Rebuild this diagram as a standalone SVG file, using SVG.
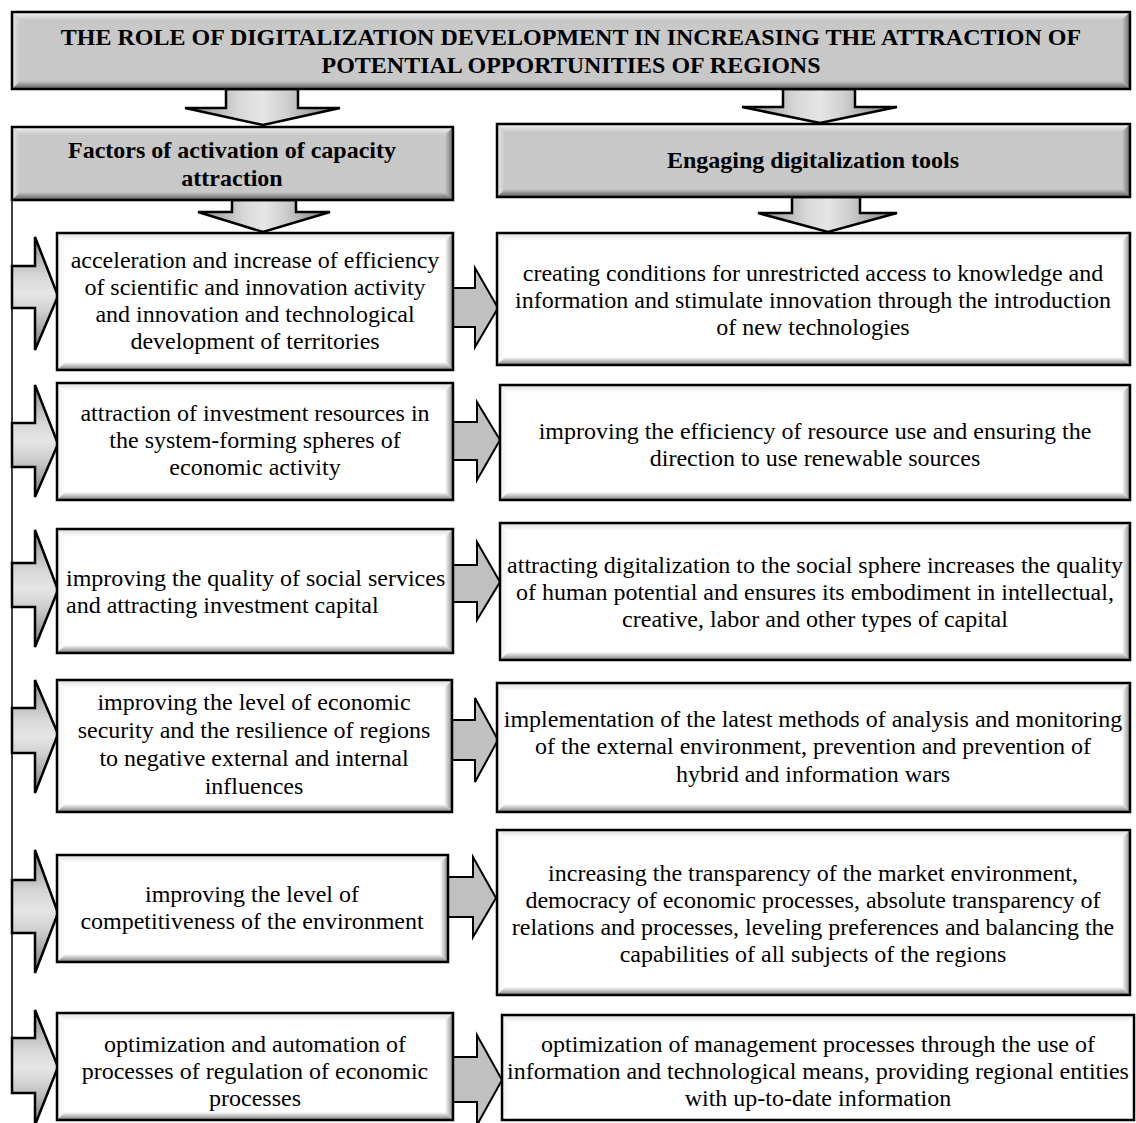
<svg xmlns="http://www.w3.org/2000/svg" width="1136" height="1123" viewBox="0 0 1136 1123">
<defs>
<linearGradient id="gwT" x1="0" y1="0" x2="0" y2="1"><stop offset="0" stop-color="#dcdcdc"/><stop offset="1" stop-color="#ffffff"/></linearGradient>
<linearGradient id="gwL" x1="0" y1="0" x2="1" y2="0"><stop offset="0" stop-color="#eeeeee"/><stop offset="1" stop-color="#ffffff"/></linearGradient>
<linearGradient id="gwR" x1="0" y1="0" x2="1" y2="0"><stop offset="0" stop-color="#ffffff"/><stop offset="1" stop-color="#8a8a8a"/></linearGradient>
<linearGradient id="gwB" x1="0" y1="0" x2="0" y2="1"><stop offset="0" stop-color="#ffffff"/><stop offset="1" stop-color="#7a7a7a"/></linearGradient>
<linearGradient id="ggT" x1="0" y1="0" x2="0" y2="1"><stop offset="0" stop-color="#f4f4f4"/><stop offset="1" stop-color="#c8c8c8"/></linearGradient>
<linearGradient id="ggL" x1="0" y1="0" x2="1" y2="0"><stop offset="0" stop-color="#e6e6e6"/><stop offset="1" stop-color="#c8c8c8"/></linearGradient>
<linearGradient id="ggR" x1="0" y1="0" x2="1" y2="0"><stop offset="0" stop-color="#c8c8c8"/><stop offset="1" stop-color="#6a6a6a"/></linearGradient>
<linearGradient id="ggB" x1="0" y1="0" x2="0" y2="1"><stop offset="0" stop-color="#c8c8c8"/><stop offset="1" stop-color="#5a5a5a"/></linearGradient>
<linearGradient id="gArrH" x1="0" y1="0" x2="0" y2="1"><stop offset="0" stop-color="#8c8c8c"/><stop offset="0.35" stop-color="#d8d8d8"/><stop offset="0.5" stop-color="#e6e6e6"/><stop offset="0.65" stop-color="#d0d0d0"/><stop offset="1" stop-color="#7c7c7c"/></linearGradient>
<linearGradient id="gArrV" x1="0" y1="0" x2="1" y2="0"><stop offset="0" stop-color="#8c8c8c"/><stop offset="0.35" stop-color="#d8d8d8"/><stop offset="0.5" stop-color="#e6e6e6"/><stop offset="0.65" stop-color="#d0d0d0"/><stop offset="1" stop-color="#7c7c7c"/></linearGradient>
</defs>
<style>
.t{font-family:"Liberation Serif","Times New Roman",serif;font-size:24px;fill:#000;text-anchor:middle}
.tl{text-anchor:start}
.h{font-family:"Liberation Serif","Times New Roman",serif;font-size:24px;font-weight:bold;fill:#000;text-anchor:middle}
.ob{fill:none;stroke:#000;stroke-width:2.5}
.wb{fill:#fff}
.gb{fill:#c8c8c8}
.ra{fill:#c0c0c0;stroke:#000;stroke-width:2;stroke-linejoin:miter}
.la{fill:url(#gArrH);stroke:#000;stroke-width:2.5}
.da{fill:url(#gArrV);stroke:#000;stroke-width:2.5}
.ln{stroke:#000;stroke-width:1.5;fill:none}
</style>

<g id="connectors">
<line class="ln" x1="12" y1="200" x2="12" y2="1040"/>
<polygon class="da" points="226,89 298,89 298,108 340,108 263,125 185,108 226,108"/>
<polygon class="da" points="783,89 855,89 855,107 897,107 820,123 742,107 783,107"/>
<polygon class="da" points="232,200 296,200 296,212 330,212 263,232 198,212 232,212"/>
<polygon class="da" points="792,197 860,197 860,213 897,213 828,232 758,213 792,213"/>
<polygon class="la" points="12,266 35,266 35,237 58,296 35,350 35,308 12,308"/>
<polygon class="la" points="12,423 35,423 35,385 58,444 35,497 35,467 12,467"/>
<polygon class="la" points="12,563 35,563 35,530 58,590 35,647 35,607 12,607"/>
<polygon class="la" points="12,708 35,708 35,680 58,734 35,793 35,753 12,753"/>
<polygon class="la" points="12,880 35,880 35,850 58,913 35,973 35,933 12,933"/>
<polygon class="la" points="12,1038 35,1038 35,1010 58,1067 35,1125 35,1093 12,1093"/>
<polygon class="ra" points="453,288 475,288 475,268 498,308 475,347 475,327 453,327"/>
<polygon class="ra" points="453,422 477,422 477,402 500,440 477,480 477,460 453,460"/>
<polygon class="ra" points="453,565 477,565 477,542 500,582 477,620 477,602 453,602"/>
<polygon class="ra" points="452,720 475,720 475,698 498,740 475,782 475,760 452,760"/>
<polygon class="ra" points="448,877 473,877 473,857 496,898 473,937 473,917 448,917"/>
<polygon class="ra" points="453,1057 477,1057 477,1035 502,1080 477,1125 477,1102 453,1102"/>
</g>

<g id="title">
<rect class="gb" x="12" y="12" width="1118" height="77"/>
<polygon fill="url(#ggT)" points="12,12 1130,12 1122,20 20,20"/>
<polygon fill="url(#ggL)" points="12,12 20,20 20,81 12,89"/>
<polygon fill="url(#ggR)" points="1122,20 1130,12 1130,89 1122,81"/>
<polygon fill="url(#ggB)" points="12,89 20,81 1122,81 1130,89"/>
<rect class="ob" x="12" y="12" width="1118" height="77"/>
<text class="h" x="571" y="45">THE ROLE OF DIGITALIZATION DEVELOPMENT IN INCREASING THE ATTRACTION OF</text>
<text class="h" x="571" y="73">POTENTIAL OPPORTUNITIES OF REGIONS</text>
</g>

<g id="factors">
<rect class="gb" x="12" y="127" width="441" height="73"/>
<polygon fill="url(#ggT)" points="12,127 453,127 445,135 20,135"/>
<polygon fill="url(#ggL)" points="12,127 20,135 20,192 12,200"/>
<polygon fill="url(#ggR)" points="445,135 453,127 453,200 445,192"/>
<polygon fill="url(#ggB)" points="12,200 20,192 445,192 453,200"/>
<rect class="ob" x="12" y="127" width="441" height="73"/>
<text class="h" x="232" y="158">Factors of activation of capacity</text>
<text class="h" x="232" y="186">attraction</text>
</g>

<g id="tools">
<rect class="gb" x="497" y="124" width="633" height="73"/>
<polygon fill="url(#ggT)" points="497,124 1130,124 1122,132 505,132"/>
<polygon fill="url(#ggL)" points="497,124 505,132 505,189 497,197"/>
<polygon fill="url(#ggR)" points="1122,132 1130,124 1130,197 1122,189"/>
<polygon fill="url(#ggB)" points="497,197 505,189 1122,189 1130,197"/>
<rect class="ob" x="497" y="124" width="633" height="73"/>
<text class="h" x="813" y="168">Engaging digitalization tools</text>
</g>

<g id="L1">
<rect class="wb" x="57" y="233" width="396" height="137"/>
<polygon fill="url(#gwT)" points="57,233 453,233 445,241 65,241"/>
<polygon fill="url(#gwL)" points="57,233 65,241 65,362 57,370"/>
<polygon fill="url(#gwR)" points="445,241 453,233 453,370 445,362"/>
<polygon fill="url(#gwB)" points="57,370 65,362 445,362 453,370"/>
<rect class="ob" x="57" y="233" width="396" height="137"/>
<text class="t" x="255" y="268">acceleration and increase of efficiency</text>
<text class="t" x="255" y="295">of scientific and innovation activity</text>
<text class="t" x="255" y="322">and innovation and technological</text>
<text class="t" x="255" y="349">development of territories</text>
</g>

<g id="R1">
<rect class="wb" x="497" y="233" width="633" height="132"/>
<polygon fill="url(#gwT)" points="497,233 1130,233 1122,241 505,241"/>
<polygon fill="url(#gwL)" points="497,233 505,241 505,357 497,365"/>
<polygon fill="url(#gwR)" points="1122,241 1130,233 1130,365 1122,357"/>
<polygon fill="url(#gwB)" points="497,365 505,357 1122,357 1130,365"/>
<rect class="ob" x="497" y="233" width="633" height="132"/>
<text class="t" x="813" y="281">creating conditions for unrestricted access to knowledge and</text>
<text class="t" x="813" y="308">information and stimulate innovation through the introduction</text>
<text class="t" x="813" y="335">of new technologies</text>
</g>

<g id="L2">
<rect class="wb" x="57" y="383" width="396" height="117"/>
<polygon fill="url(#gwT)" points="57,383 453,383 445,391 65,391"/>
<polygon fill="url(#gwL)" points="57,383 65,391 65,492 57,500"/>
<polygon fill="url(#gwR)" points="445,391 453,383 453,500 445,492"/>
<polygon fill="url(#gwB)" points="57,500 65,492 445,492 453,500"/>
<rect class="ob" x="57" y="383" width="396" height="117"/>
<text class="t" x="255" y="421">attraction of investment resources in</text>
<text class="t" x="255" y="448">the system-forming spheres of</text>
<text class="t" x="255" y="475">economic activity</text>
</g>

<g id="R2">
<rect class="wb" x="500" y="385" width="630" height="115"/>
<polygon fill="url(#gwT)" points="500,385 1130,385 1122,393 508,393"/>
<polygon fill="url(#gwL)" points="500,385 508,393 508,492 500,500"/>
<polygon fill="url(#gwR)" points="1122,393 1130,385 1130,500 1122,492"/>
<polygon fill="url(#gwB)" points="500,500 508,492 1122,492 1130,500"/>
<rect class="ob" x="500" y="385" width="630" height="115"/>
<text class="t" x="815" y="439">improving the efficiency of resource use and ensuring the</text>
<text class="t" x="815" y="466">direction to use renewable sources</text>
</g>

<g id="L3">
<rect class="wb" x="57" y="529" width="396" height="124"/>
<polygon fill="url(#gwT)" points="57,529 453,529 445,537 65,537"/>
<polygon fill="url(#gwL)" points="57,529 65,537 65,645 57,653"/>
<polygon fill="url(#gwR)" points="445,537 453,529 453,653 445,645"/>
<polygon fill="url(#gwB)" points="57,653 65,645 445,645 453,653"/>
<rect class="ob" x="57" y="529" width="396" height="124"/>
<text class="t tl" x="66" y="586">improving the quality of social services</text>
<text class="t tl" x="66" y="613">and attracting investment capital</text>
</g>

<g id="R3">
<rect class="wb" x="500" y="523" width="630" height="137"/>
<polygon fill="url(#gwT)" points="500,523 1130,523 1122,531 508,531"/>
<polygon fill="url(#gwL)" points="500,523 508,531 508,652 500,660"/>
<polygon fill="url(#gwR)" points="1122,531 1130,523 1130,660 1122,652"/>
<polygon fill="url(#gwB)" points="500,660 508,652 1122,652 1130,660"/>
<rect class="ob" x="500" y="523" width="630" height="137"/>
<text class="t" x="815" y="573">attracting digitalization to the social sphere increases the quality</text>
<text class="t" x="815" y="600">of human potential and ensures its embodiment in intellectual,</text>
<text class="t" x="815" y="627">creative, labor and other types of capital</text>
</g>

<g id="L4">
<rect class="wb" x="57" y="680" width="395" height="132"/>
<polygon fill="url(#gwT)" points="57,680 452,680 444,688 65,688"/>
<polygon fill="url(#gwL)" points="57,680 65,688 65,804 57,812"/>
<polygon fill="url(#gwR)" points="444,688 452,680 452,812 444,804"/>
<polygon fill="url(#gwB)" points="57,812 65,804 444,804 452,812"/>
<rect class="ob" x="57" y="680" width="395" height="132"/>
<text class="t" x="254" y="710">improving the level of economic</text>
<text class="t" x="254" y="738">security and the resilience of regions</text>
<text class="t" x="254" y="766">to negative external and internal</text>
<text class="t" x="254" y="794">influences</text>
</g>

<g id="R4">
<rect class="wb" x="497" y="683" width="633" height="129"/>
<polygon fill="url(#gwT)" points="497,683 1130,683 1122,691 505,691"/>
<polygon fill="url(#gwL)" points="497,683 505,691 505,804 497,812"/>
<polygon fill="url(#gwR)" points="1122,691 1130,683 1130,812 1122,804"/>
<polygon fill="url(#gwB)" points="497,812 505,804 1122,804 1130,812"/>
<rect class="ob" x="497" y="683" width="633" height="129"/>
<text class="t" x="813" y="727">implementation of the latest methods of analysis and monitoring</text>
<text class="t" x="813" y="754">of the external environment, prevention and prevention of</text>
<text class="t" x="813" y="782">hybrid and information wars</text>
</g>

<g id="L5">
<rect class="wb" x="57" y="855" width="391" height="107"/>
<polygon fill="url(#gwT)" points="57,855 448,855 440,863 65,863"/>
<polygon fill="url(#gwL)" points="57,855 65,863 65,954 57,962"/>
<polygon fill="url(#gwR)" points="440,863 448,855 448,962 440,954"/>
<polygon fill="url(#gwB)" points="57,962 65,954 440,954 448,962"/>
<rect class="ob" x="57" y="855" width="391" height="107"/>
<text class="t" x="252" y="902">improving the level of</text>
<text class="t" x="252" y="929">competitiveness of the environment</text>
</g>

<g id="R5">
<rect class="wb" x="497" y="830" width="633" height="165"/>
<polygon fill="url(#gwT)" points="497,830 1130,830 1122,838 505,838"/>
<polygon fill="url(#gwL)" points="497,830 505,838 505,987 497,995"/>
<polygon fill="url(#gwR)" points="1122,838 1130,830 1130,995 1122,987"/>
<polygon fill="url(#gwB)" points="497,995 505,987 1122,987 1130,995"/>
<rect class="ob" x="497" y="830" width="633" height="165"/>
<text class="t" x="813" y="881">increasing the transparency of the market environment,</text>
<text class="t" x="813" y="908">democracy of economic processes, absolute transparency of</text>
<text class="t" x="813" y="935">relations and processes, leveling preferences and balancing the</text>
<text class="t" x="813" y="962">capabilities of all subjects of the regions</text>
</g>

<g id="L6">
<rect class="wb" x="57" y="1013" width="396" height="107"/>
<polygon fill="url(#gwT)" points="57,1013 453,1013 445,1021 65,1021"/>
<polygon fill="url(#gwL)" points="57,1013 65,1021 65,1112 57,1120"/>
<polygon fill="url(#gwR)" points="445,1021 453,1013 453,1120 445,1112"/>
<polygon fill="url(#gwB)" points="57,1120 65,1112 445,1112 453,1120"/>
<rect class="ob" x="57" y="1013" width="396" height="107"/>
<text class="t" x="255" y="1052">optimization and automation of</text>
<text class="t" x="255" y="1079">processes of regulation of economic</text>
<text class="t" x="255" y="1106">processes</text>
</g>

<g id="R6">
<rect class="wb" x="502" y="1015" width="632" height="105"/>
<polygon fill="url(#gwT)" points="502,1015 1134,1015 1126,1023 510,1023"/>
<polygon fill="url(#gwL)" points="502,1015 510,1023 510,1112 502,1120"/>
<rect class="ob" x="502" y="1015" width="632" height="105"/>
<text class="t" x="818" y="1052">optimization of management processes through the use of</text>
<text class="t" x="818" y="1079">information and technological means, providing regional entities</text>
<text class="t" x="818" y="1106">with up-to-date information</text>
</g>
</svg>
